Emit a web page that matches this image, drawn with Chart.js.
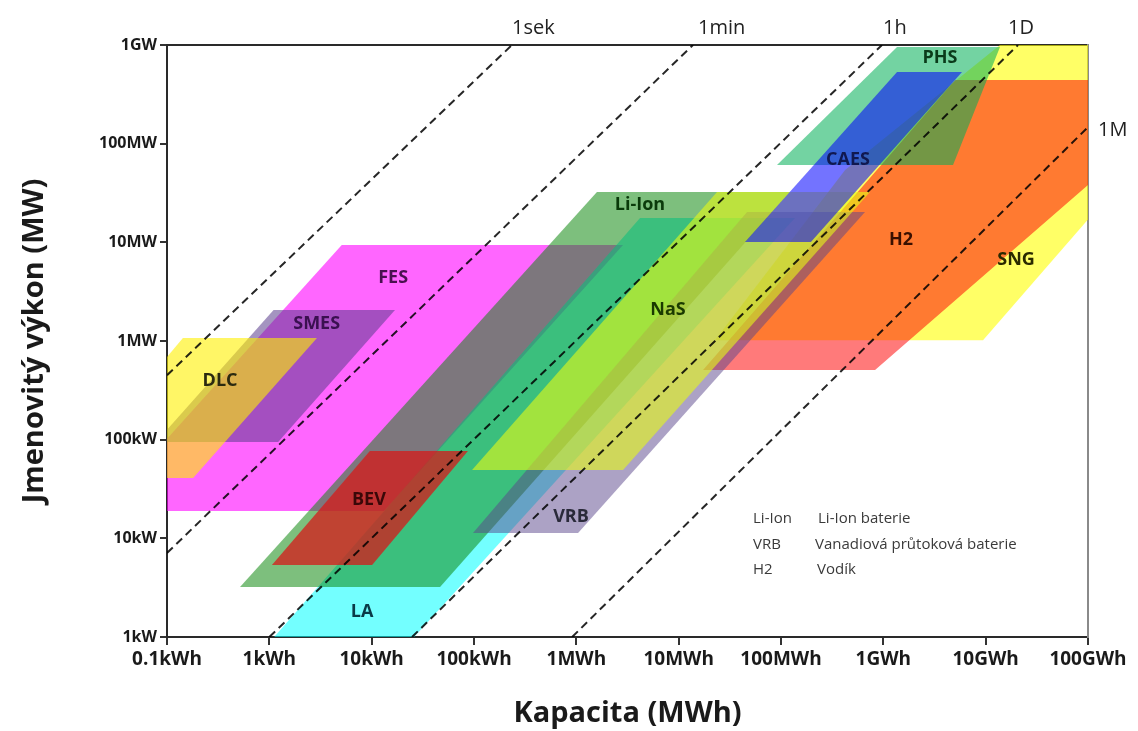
<!DOCTYPE html>
<html>
<head>
<meta charset="utf-8">
<script src="https://cdn.jsdelivr.net/npm/chart.js@4.4.0/dist/chart.umd.min.js"></script>
<style>
  body { margin: 0; background: #fff; }
  #wrap { width: 1138px; height: 731px; }
</style>
</head>
<body>
<div id="wrap"><canvas id="chart"></canvas></div>
<script>
// osa x: kapacita [MWh], osa y: výkon [MW]
const xTicks = [1e-4, 1e-3, 1e-2, 1e-1, 1, 10, 100, 1e3, 1e4, 1e5];
const xLabels = ['0.1kWh', '1kWh', '10kWh', '100kWh', '1MWh', '10MWh', '100MWh', '1GWh', '10GWh', '100GWh'];
const yTicks = [1e-3, 1e-2, 1e-1, 1, 10, 100, 1e3];
const yLabels = ['1kW', '10kW', '100kW', '1MW', '10MW', '100MW', '1GW'];

// oblasti technologií, body [MWh, MW]
const SNG = [[13800, 1000], [3.06e6, 1000], [9420, 1.02], [22.6, 1.02], [423, 54.1]];
const H2 = [[5025, 442], [1e5, 442], [1e5, 38.1], [830, 0.508], [17.3, 0.508]];
const PHS = [[1361, 955], [13800, 955], [4800, 60.8], [91.4, 60.8]];
const FES = [[0.0051, 9.4], [2.86, 9.4], [0.0132, 0.0189], [2.3e-5, 0.0189]];
const SMES = [[1.1e-3, 2.06], [0.0169, 2.06], [1.22e-3, 0.0946], [7.8e-5, 0.0946]];
const DLC = [[1.43e-4, 1.07], [2.92e-3, 1.07], [1.8e-4, 0.0408], [1e-5, 0.0408]];
const LA = [[4.19, 17.6], [137, 17.6], [0.0237, 0.0009], [1.02e-3, 0.0009]];
const LiIon = [[1.59, 32.4], [122, 32.4], [0.0466, 0.00321], [5.17e-4, 0.00321]];
const BEV = [[0.0096, 0.0767], [0.0873, 0.0767], [0.0101, 0.00537], [1.06e-3, 0.00537]];
const VRB = [[46.6, 20.3], [662, 20.3], [1.04, 0.0113], [0.0977, 0.0113]];
const NaS = [[23.7, 32.4], [741, 32.4], [2.86, 0.0493], [0.0957, 0.0493]];
const CAES = [[1361, 532], [5875, 532], [196, 10.1], [44.5, 10.1]];

// popisky oblastí [MWh, MW]
const areaNames = ['DLC', 'SMES', 'FES', 'BEV', 'LA', 'Li-Ion', 'NaS', 'VRB', 'CAES', 'PHS', 'H2', 'SNG'];
const areaLabelAt = [[3.3e-4, 0.39], [2.9e-3, 1.49], [0.0162, 4.35], [9.4e-3, 0.0244], [8.05e-3, 0.00179],
  [4.19, 23.9], [7.87, 2.06], [0.887, 0.0164], [452, 68.2], [3580, 738], [1489, 10.6], [19800, 6.6]];

// čáry doby vybíjení
const timeNames = ['1sek', '1min', '1h', '1D', '1M'];
const timeStart = [[1e-4, 0.45], [1e-4, 0.0071], [0.001, 0.001], [0.0248, 0.001], [0.91, 0.001]];
const timeEnd = [[0.235, 1000], [13.8, 1000], [970, 1000], [20700, 1000], [1e5, 147]];

// vysvětlivky
const legendAbbr = ['Li-Ion', 'VRB', 'H2'];
const legendText = ['Li-Ion baterie', 'Vanadiová průtoková baterie', 'Vodík'];

// pořadí kreslení: první je vespod
const areas = [
  { pts: SNG, color: 'rgba(255,255,0,0.6)' },
  { pts: H2, color: 'rgba(255,0,0,0.52)' },
  { pts: PHS, color: 'rgba(0,175,85,0.55)' },
  { pts: FES, color: 'rgba(255,0,255,0.6)' },
  { pts: SMES, color: 'rgba(90,60,140,0.55)' },
  { pts: DLC, color: 'rgba(255,240,0,0.6)' },
  { pts: LA, color: 'rgba(0,255,255,0.55)' },
  { pts: LiIon, color: 'rgba(10,135,10,0.53)' },
  { pts: BEV, color: 'rgba(215,25,25,0.75)' },
  { pts: VRB, color: 'rgba(90,70,140,0.5)' },
  { pts: NaS, color: 'rgba(230,250,20,0.6)' },
  { pts: CAES, color: 'rgba(0,0,255,0.55)' }
];
const labelColors = ['#2b2a10', '#3a1050', '#4a1050', '#3a0808', '#0a3a48', '#0a3a0a', '#1a3a00',
  '#2a2a3a', '#101850', '#0a3a1a', '#3a1000', '#2a2a00'];
const timeLabelDx = [0, 5, 1, -10, 0];

const toXY = p => ({ x: p[0], y: p[1] });

const datasets = [];
// dataset s indexem 0 se kreslí nahoře
timeNames.forEach((n, i) => {
  datasets.push({
    data: [toXY(timeStart[i]), toXY(timeEnd[i])],
    borderColor: 'rgba(0,0,0,0.85)',
    borderWidth: 2,
    borderDash: [8, 5],
    pointRadius: 0,
    fill: false,
    xAxisID: 'x', yAxisID: 'y'
  });
});
areas.slice().reverse().forEach(a => {
  datasets.push({
    data: a.pts.concat([a.pts[0]]).map(toXY),
    backgroundColor: a.color,
    borderColor: 'transparent',
    borderWidth: 0,
    pointRadius: 0,
    fill: 'shape',
    xAxisID: 'x', yAxisID: 'y'
  });
});

const textPlugin = {
  id: 'texts',
  afterDraw(chart) {
    const { ctx, chartArea } = chart;
    const x = chart.scales.x, y = chart.scales.y;
    ctx.save();
    // popisky oblastí
    ctx.font = 'bold 18px "Open Sans"';
    ctx.textAlign = 'center';
    ctx.textBaseline = 'middle';
    areaNames.forEach((n, i) => {
      ctx.fillStyle = labelColors[i];
      ctx.fillText(n, x.getPixelForValue(areaLabelAt[i][0]), y.getPixelForValue(areaLabelAt[i][1]));
    });
    // popisky časových čar
    ctx.font = '20px "Open Sans"';
    ctx.fillStyle = '#222';
    ctx.textAlign = 'left';
    timeNames.forEach((n, i) => {
      const px = x.getPixelForValue(timeEnd[i][0]) + timeLabelDx[i];
      const py = y.getPixelForValue(timeEnd[i][1]);
      if (timeEnd[i][1] >= 1000) ctx.fillText(n, px, chartArea.top - 17);
      else ctx.fillText(n, chartArea.right + 10, py + 3);
    });
    // vysvětlivky
    ctx.font = '15px "Open Sans"';
    ctx.fillStyle = '#3a3a3a';
    const lx = x.getPixelForValue(53.3);
    const ly = y.getPixelForValue(0.0157);
    const offs = [65, 62, 64];
    legendAbbr.forEach((a, i) => {
      ctx.fillText(a, lx, ly + i * 25.5);
      ctx.fillText(legendText[i], lx + offs[i], ly + i * 25.5);
    });
    ctx.restore();
  }
};

new Chart(document.getElementById('chart'), {
  type: 'line',
  data: { datasets: datasets },
  options: {
    responsive: true,
    maintainAspectRatio: false,
    animation: false,
    events: [],
    layout: { padding: { left: 0, top: 45, right: 50, bottom: 0 } },
    plugins: { legend: { display: false }, tooltip: { enabled: false } },
    scales: {
      x: {
        type: 'logarithmic',
        position: 'bottom',
        min: 1e-4, max: 1e5,
        afterBuildTicks: s => { s.ticks = xTicks.map(v => ({ value: v })); },
        afterFit: s => { s.height = 94; },
        ticks: {
          autoSkip: false, maxRotation: 0, padding: 3, color: '#1a1a1a',
          font: { family: 'Open Sans', size: 19, weight: 'bold' },
          callback: (v, i) => xLabels[i]
        },
        grid: { drawOnChartArea: false, drawTicks: true, tickLength: 8, color: '#333', lineWidth: 2 },
        border: { display: true, color: '#2a2a2a', width: 2 },
        title: {
          display: true, text: 'Kapacita (MWh)', color: '#1a1a1a',
          font: { family: 'Open Sans', size: 29, weight: 'bold' }, padding: { top: 0, bottom: 0 }
        }
      },
      y: {
        type: 'logarithmic',
        position: 'left',
        min: 1e-3, max: 1e3,
        afterBuildTicks: s => { s.ticks = yTicks.map(v => ({ value: v })); },
        afterFit: s => { s.width = 167; },
        ticks: {
          autoSkip: false, padding: 3, color: '#1a1a1a',
          font: { family: 'Open Sans', size: 16, weight: 'bold' },
          callback: (v, i) => yLabels[i]
        },
        grid: { drawOnChartArea: false, drawTicks: true, tickLength: 7, color: '#333', lineWidth: 2 },
        border: { display: true, color: '#2a2a2a', width: 2 },
        title: {
          display: true, text: 'Jmenovitý výkon (MW)', color: '#1a1a1a',
          font: { family: 'Open Sans', size: 29, weight: 'bold' }, padding: { top: 17, bottom: 0 }
        }
      },
      xTop: {
        type: 'linear', position: 'top', display: true,
        afterFit: s => { s.height = 0; },
        ticks: { display: false },
        grid: { display: false, drawTicks: false },
        border: { display: true, color: '#2a2a2a', width: 2 }
      },
      yRight: {
        type: 'linear', position: 'right', display: true,
        afterFit: s => { s.width = 0; },
        ticks: { display: false },
        grid: { display: false, drawTicks: false },
        border: { display: true, color: '#8a8a8a', width: 2 }
      }
    }
  },
  plugins: [textPlugin]
});
</script>
</body>
</html>
